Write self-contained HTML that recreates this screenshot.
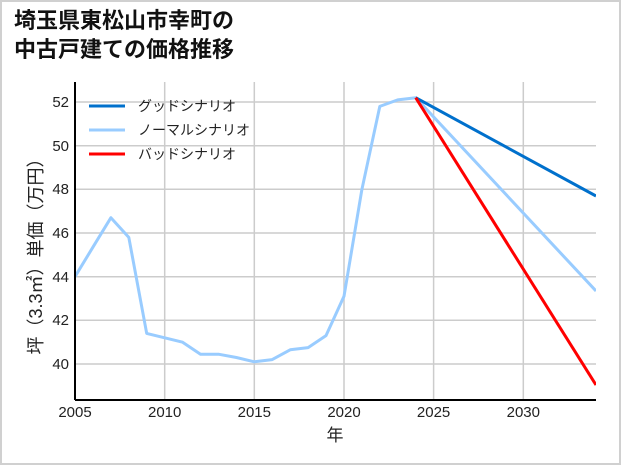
<!DOCTYPE html>
<html><head><meta charset="utf-8"><style>
body{margin:0;background:#fff;}
svg{display:block;font-family:"Liberation Sans","Noto Sans CJK JP",sans-serif;}
</style></head><body>
<svg width="621" height="465" viewBox="0 0 621 465">
<rect x="1" y="1" width="619" height="463" fill="#fff" stroke="#d0d0d0" stroke-width="2"/>
<text x="14" y="28" font-size="22" font-weight="bold" fill="#111">埼玉県東松山市幸町の</text>
<text x="14" y="57" font-size="22" font-weight="bold" fill="#111">中古戸建ての価格推移</text>
<defs><clipPath id="c"><rect x="75" y="82" width="521" height="318"/></clipPath></defs>
<g stroke="#cccccc" stroke-width="1.5">
<line x1="164.7" y1="82" x2="164.7" y2="400"/><line x1="254.3" y1="82" x2="254.3" y2="400"/>
<line x1="344" y1="82" x2="344" y2="400"/><line x1="433.6" y1="82" x2="433.6" y2="400"/>
<line x1="523.3" y1="82" x2="523.3" y2="400"/>
<line x1="75" y1="102" x2="596" y2="102"/><line x1="75" y1="145.7" x2="596" y2="145.7"/>
<line x1="75" y1="189.3" x2="596" y2="189.3"/><line x1="75" y1="233" x2="596" y2="233"/>
<line x1="75" y1="276.7" x2="596" y2="276.7"/><line x1="75" y1="320.3" x2="596" y2="320.3"/>
<line x1="75" y1="364" x2="596" y2="364"/>
</g>
<g clip-path="url(#c)" fill="none" stroke-width="3" stroke-linejoin="round">
<polyline stroke="#99ccff" points="75,276.7 92.9,247.2 110.9,217.7 128.8,237.4 146.7,333.4 164.7,337.8 182.6,342.2 200.5,354.2 218.4,354.2 236.4,357.5 254.3,361.8 272.2,359.6 290.2,349.8 308.1,347.6 326,335.6 344,296.3 361.9,189.4 379.8,106.4 397.7,99.9 415.7,97.7 596,291"/>
<polyline stroke="#0070cc" points="415.7,97.7 596,196"/>
<polyline stroke="#ff0000" points="415.7,97.7 596,385"/>
</g>
<line x1="75" y1="82" x2="75" y2="400" stroke="#000" stroke-width="2"/>
<line x1="75" y1="400" x2="596" y2="400" stroke="#000" stroke-width="2"/>
<g font-size="15" fill="#222" text-anchor="end">
<text x="69" y="107">52</text><text x="69" y="151">50</text><text x="69" y="194">48</text>
<text x="69" y="238">46</text><text x="69" y="282">44</text><text x="69" y="325">42</text><text x="69" y="369">40</text>
</g>
<g font-size="15" fill="#222" text-anchor="middle">
<text x="75" y="417">2005</text><text x="164.7" y="417">2010</text><text x="254.3" y="417">2015</text>
<text x="344" y="417">2020</text><text x="433.6" y="417">2025</text><text x="523.3" y="417">2030</text>
<text x="335" y="441" font-size="17">年</text>
</g>
<text transform="translate(42,252) rotate(-90)" font-size="18" fill="#222" text-anchor="middle">坪（3.3㎡）単価（万円）</text>
<g stroke-width="3">
<line x1="89" y1="106" x2="125" y2="106" stroke="#0070cc"/>
<line x1="89" y1="130" x2="125" y2="130" stroke="#99ccff"/>
<line x1="89" y1="154" x2="125" y2="154" stroke="#ff0000"/>
</g>
<g font-size="14" fill="#222">
<text x="138" y="111">グッドシナリオ</text>
<text x="138" y="135">ノーマルシナリオ</text>
<text x="138" y="159">バッドシナリオ</text>
</g>
</svg>
</body></html>
